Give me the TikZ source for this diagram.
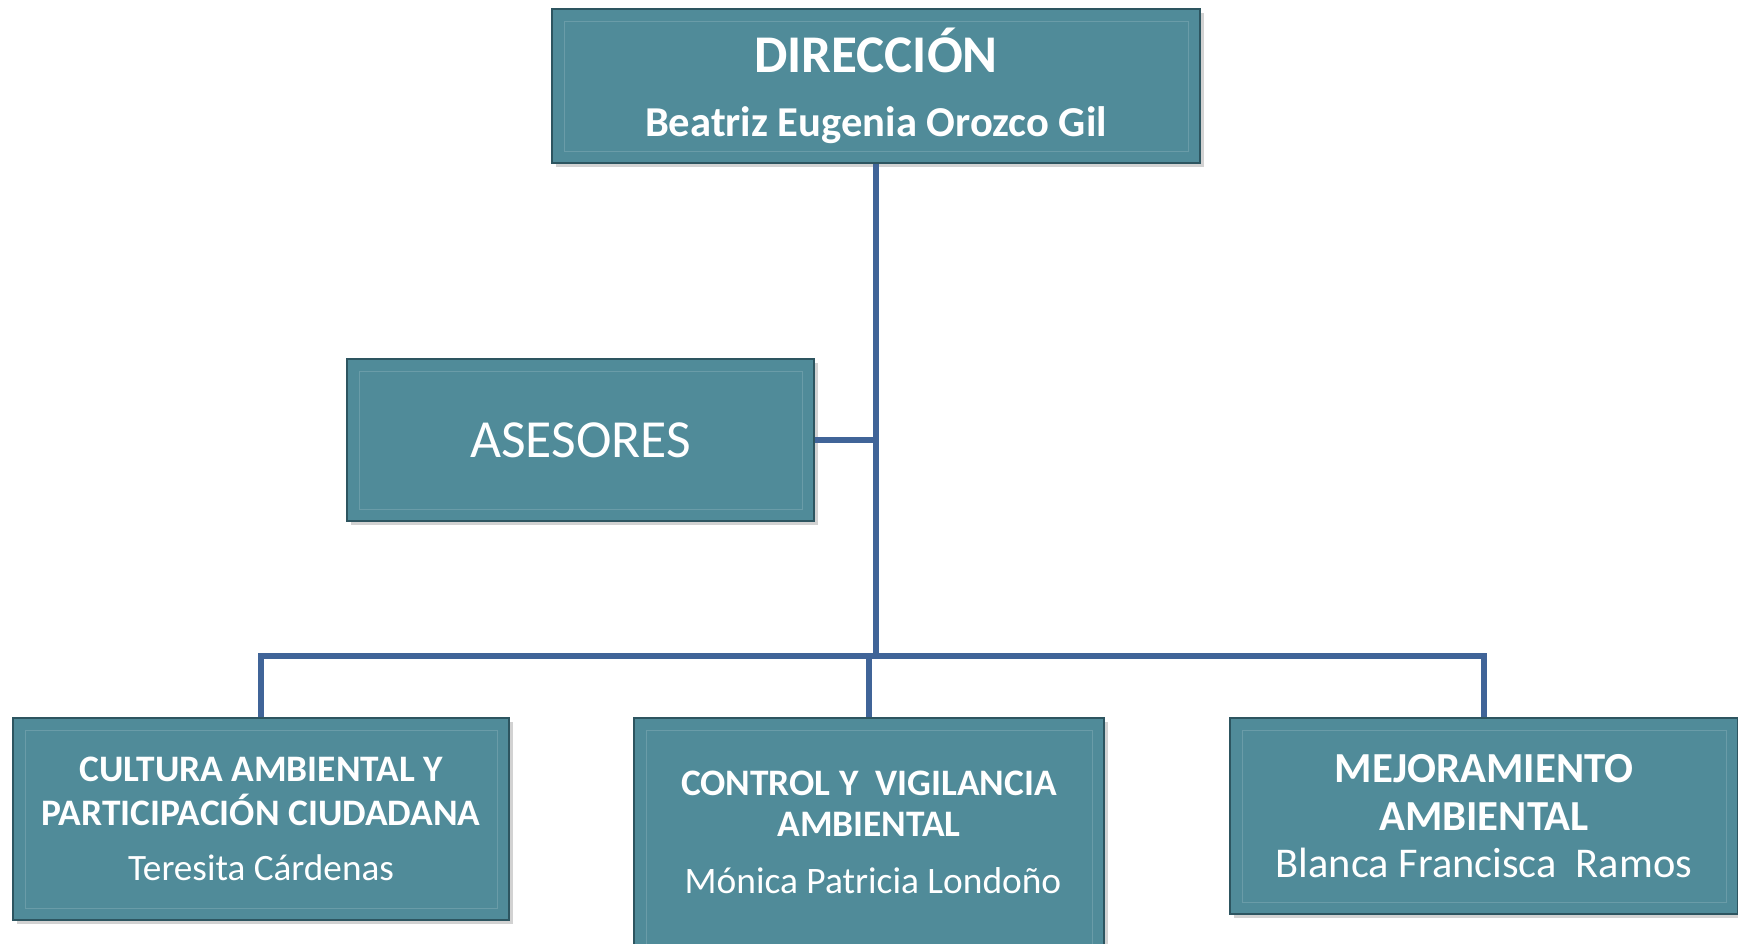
\documentclass[tikz,border=0pt]{standalone}
\usepackage{fontspec}
\setmainfont{Carlito}
\usetikzlibrary{shadows}
\definecolor{caja}{RGB}{80,139,153}
\definecolor{borde}{RGB}{45,85,96}
\definecolor{linea}{RGB}{64,100,152}
\newcommand{\tit}[1]{\fontsize{#1}{#1}\selectfont\bfseries}
\newcommand{\nom}[1]{\fontsize{#1}{#1}\selectfont}

\tikzset{
  unidad/.style={rectangle, draw=borde, line width=0.8pt, fill=caja, inner sep=0pt,
    drop shadow={shadow xshift=2pt, shadow yshift=-2pt, opacity=0.35},
    path picture={\draw[caja!85!white, line width=0.5pt]
      ([xshift=6pt,yshift=-6pt]path picture bounding box.north west) rectangle
      ([xshift=-6pt,yshift=6pt]path picture bounding box.south east);}},
  texto/.style={text=white, inner sep=0pt},
  conector/.style={draw=linea, line width=3pt},
}

\begin{document}
\begin{tikzpicture}[x=0.5pt,y=-0.5pt]
   \useasboundingbox[fill=white] (0,0) rectangle (1738,943);
   % cajas
   \node[unidad, minimum width=324pt, minimum height=77pt] (dir) at (876,86) {};
   \node[unidad, minimum width=233.5pt, minimum height=81pt] (ase) at (580.5,440) {};
   \node[unidad, minimum width=248pt, minimum height=101pt] (cul) at (261,819) {};
   \node[unidad, minimum width=235pt, minimum height=125pt] (con) at (869,843) {};
   \node[unidad, minimum width=254pt, minimum height=98pt] (mej) at (1484,816) {};
   % lineas
   \coordinate (bus) at (877,656);
   \draw[conector] (dir.south) -- (dir.south |- bus);
   \draw[conector] (ase.east) -- (ase.east -| dir.south);
   \draw[conector] (cul.north) -- (cul.north |- bus) -| (mej.north);
   \draw[conector] (con.north) -- (con.north |- bus);
   % textos
   \node[texto] (dirT) at (876,50) {\tit{26.5}DIRECCIÓN};
   \node[texto] (dirN) at (876,125) {\tit{21.3}Beatriz Eugenia Orozco Gil};
   \node[texto] (aseT) at (580.5,440) {\nom{26.8}ASESORES};
   \node[texto] (culT) at (261,769) {\tit{18.7}CULTURA AMBIENTAL Y};
   \node[texto] (culS) at (261,810) {\tit{18.7}PARTICIPACIÓN CIUDADANA};
   \node[texto] (culN) at (261,868) {\nom{18.6}Teresita Cárdenas};
   \node[texto] (conT) at (869,783) {\tit{18.7}CONTROL Y\ \ VIGILANCIA};
   \node[texto] (conS) at (869,824) {\tit{18.7}AMBIENTAL};
   \node[texto] (conN) at (873,881) {\nom{18.7}Mónica Patricia Londoño};
   \node[texto] (mejT) at (1484,769) {\tit{21.4}MEJORAMIENTO};
   \node[texto] (mejS) at (1484,817) {\tit{21.4}AMBIENTAL};
   \node[texto] (mejN) at (1484,863) {\nom{21.2}Blanca Francisca\ \ Ramos};
\end{tikzpicture}
\end{document}
